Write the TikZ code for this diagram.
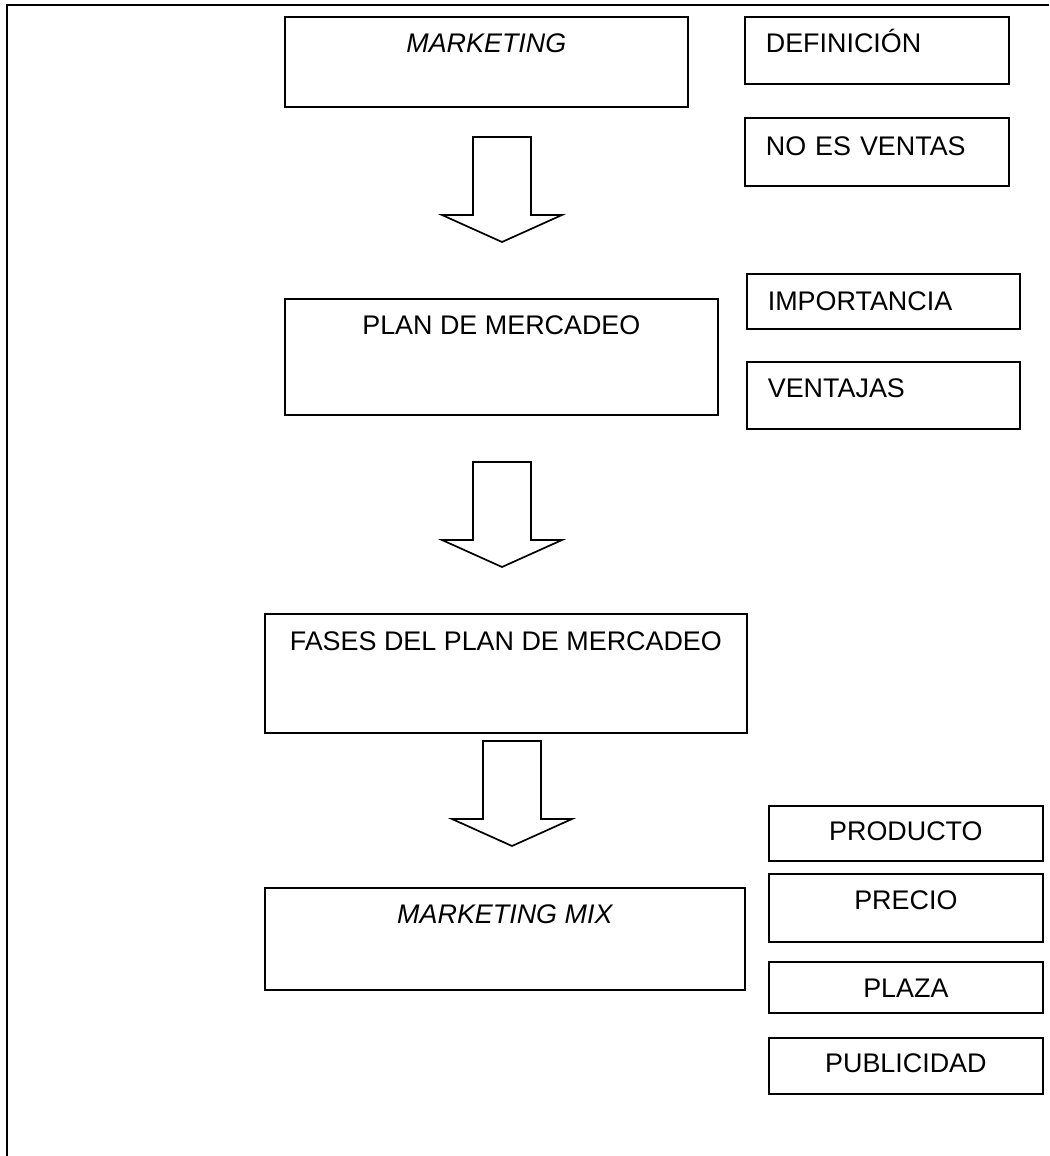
\documentclass[tikz,border=0pt]{standalone}
\usepackage{fontspec}
\setmainfont{Liberation Sans}
\begin{document}
\begin{tikzpicture}[x=0.5pt,y=-0.5pt,
  bx/.style={draw, line width=0.85pt, anchor=north west, inner ysep=0pt, font=\fontsize{13.45}{16}\selectfont},
  cb/.style={bx, inner xsep=0pt},
  lb/.style={bx, inner xsep=10.5pt, align=left},
  downarrow/.pic={\draw[line width=0.85pt] (-29,0) -- (29,0) -- (29,78) -- (60,78) -- (0,105) -- (-60,78) -- (-29,78) -- cycle;}]
\useasboundingbox (0,0) rectangle (1049,1156);
\draw[line width=0.85pt] (7,1156) -- (7,5) -- (1049,5);
% left column
\node[cb, minimum width=201.5pt, minimum height=45pt, text height=18pt, text depth=27pt] (mk) at (284,16) {\itshape MARKETING};
\node[cb, minimum width=216.5pt, minimum height=58pt, text height=18pt, text depth=40pt] (plan) at (284,298) {PLAN DE MERCADEO};
\node[cb, minimum width=241pt, minimum height=59.5pt, text height=18.5pt, text depth=41pt] (fases) at (264,613) {FASES DEL PLAN DE MERCADEO};
\node[cb, minimum width=240pt, minimum height=51pt, text height=18pt, text depth=33pt] (mix) at (264,887) {\itshape MARKETING MIX};
% right column
\node[lb, text width=111pt, minimum height=33.5pt, text height=18pt, text depth=15.5pt] (def) at (744,16) {DEFINICIÓN};
\node[lb, text width=111pt, minimum height=34pt, text height=19pt, text depth=15pt] (nov) at (744,117) {NO ES VENTAS};
\node[lb, text width=115.5pt, minimum height=27.5pt, text height=18.5pt, text depth=9pt] (imp) at (746,273) {IMPORTANCIA};
\node[lb, text width=115.5pt, minimum height=33.5pt, text height=18pt, text depth=15.5pt] (ven) at (746,361) {VENTAJAS};
\node[cb, minimum width=137pt, minimum height=27.5pt, text height=17.5pt, text depth=10pt] (prod) at (768,805) {PRODUCTO};
\node[cb, minimum width=137pt, minimum height=34pt, text height=18pt, text depth=16pt] (prec) at (768,873) {PRECIO};
\node[cb, minimum width=137pt, minimum height=25.5pt, text height=18pt, text depth=7.5pt] (plaza) at (768,961) {PLAZA};
\node[cb, minimum width=137pt, minimum height=28pt, text height=17.5pt, text depth=10.5pt] (pub) at (768,1037) {PUBLICIDAD};
% block arrows
\pic (a1) at (502,137) {downarrow};
\pic (a2) at (502,462) {downarrow};
\pic (a3) at (512,741) {downarrow};
\end{tikzpicture}
\end{document}
